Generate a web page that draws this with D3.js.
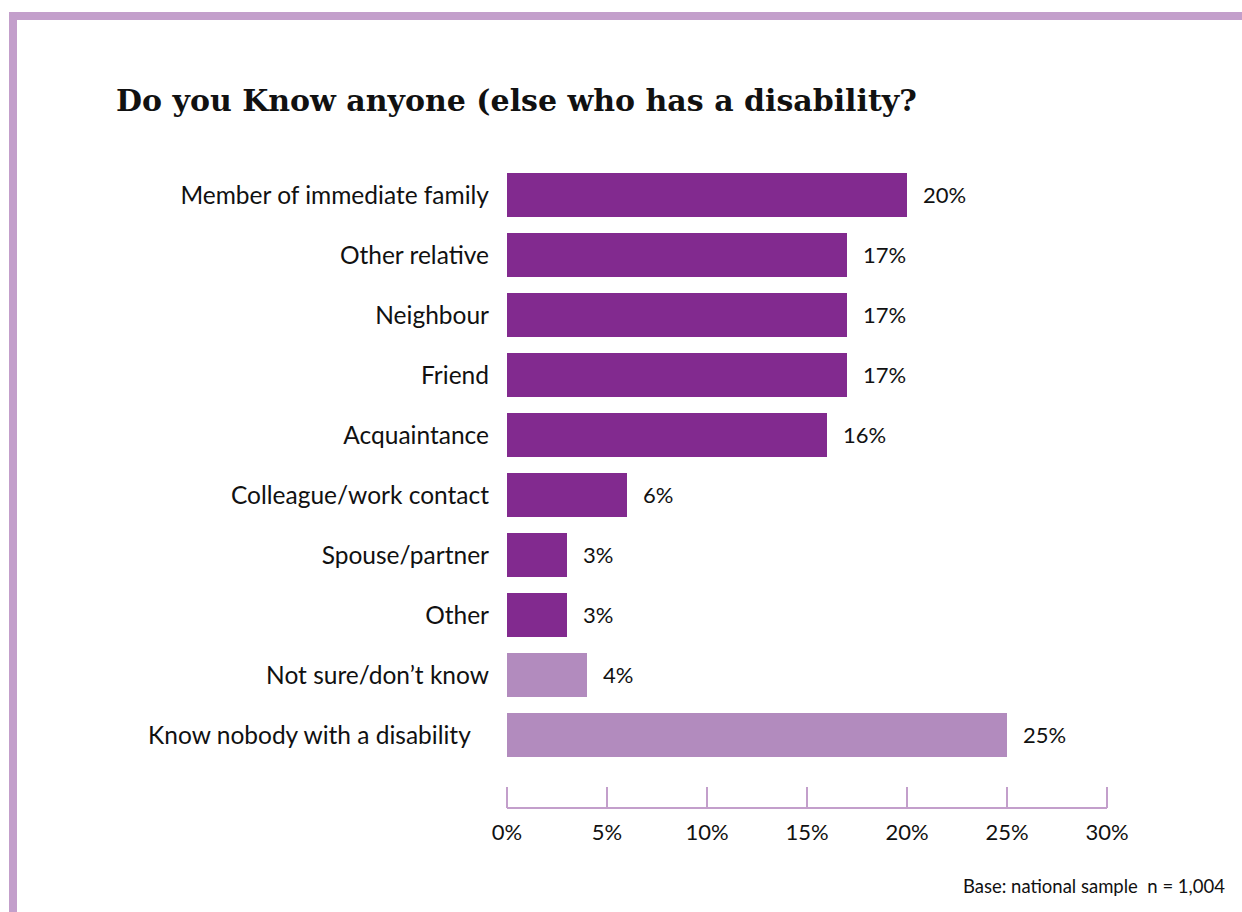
<!DOCTYPE html>
<html>
<head>
<meta charset="utf-8">
<script src="https://cdn.jsdelivr.net/npm/d3@7"></script>
<style>
	body { margin: 0; background: #fff; }
	svg { display: block; }
	.lab { font-family: "Lato", sans-serif; font-size: 22px; fill: #111; }
	.cat { font-size: 24.5px; }
</style>
</head>
<body>
<svg id="chart" width="1242" height="912"></svg>
<script>
let categories = ["Member of immediate family", "Other relative", "Neighbour", "Friend", "Acquaintance",
	"Colleague/work contact", "Spouse/partner", "Other", "Not sure/don\u2019t know", "Know nobody with a disability\u00a0\u00a0\u00a0"];
let values = [20, 17, 17, 17, 16, 6, 3, 3, 4, 25];
let groups = ["know", "know", "know", "know", "know", "know", "know", "know", "other", "other"];
let tickValues = [0, 5, 10, 15, 20, 25, 30];

let data = categories.map((c, i) => ({key: c, value: values[i], group: groups[i]}));

let svg = d3.select("#chart");
let borderColour = "#c39fcb";

// frame
svg.append("rect").attr("x", 9).attr("y", 12).attr("width", 1242).attr("height", 8).attr("fill", borderColour);
svg.append("rect").attr("x", 9).attr("y", 12).attr("width", 8).attr("height", 912).attr("fill", borderColour);

svg.append("text")
	.attr("x", 116).attr("y", 111)
	.attr("font-family", "DejaVu Serif")
	.attr("font-weight", "bold")
	.attr("font-size", 30)
	.attr("fill", "#111")
	.text("Do you Know anyone (else who has a disability?");

let scaleX = d3.scaleLinear().domain([0, 30]).range([507, 1107]);
let scaleY = d3.scaleBand()
	.domain(categories)
	.range([165, 765])
	.paddingInner(16/60)
	.paddingOuter(8/60);

let colour = d3.scaleOrdinal().domain(["know", "other"]).range(["#822a8f", "#b28bbe"]);

let rows = svg.selectAll("g.row")
	.data(data)
	.join("g")
	.attr("class", "row")
	.attr("transform", d => "translate(0," + scaleY(d.key) + ")");

rows.append("rect")
	.attr("x", scaleX(0))
	.attr("width", d => scaleX(d.value) - scaleX(0))
	.attr("height", scaleY.bandwidth())
	.attr("fill", d => colour(d.group));

rows.append("text")
	.attr("class", "lab cat")
	.attr("x", scaleX(0) - 18)
	.attr("y", scaleY.bandwidth()/2)
	.attr("dy", "0.38em")
	.attr("text-anchor", "end")
	.style("white-space", "pre")
	.text(d => d.key);

rows.append("text")
	.attr("class", "lab")
	.attr("x", d => scaleX(d.value) + 16)
	.attr("y", scaleY.bandwidth()/2)
	.attr("dy", "0.38em")
	.text(d => d.value + "%");

// axis
let axis = svg.append("g").attr("transform", "translate(0,808)");
axis.append("line")
	.attr("x1", scaleX(0)).attr("x2", scaleX(30))
	.attr("stroke", borderColour).attr("stroke-width", 2);
axis.selectAll("line.tick")
	.data(tickValues)
	.join("line")
	.attr("class", "tick")
	.attr("x1", d => scaleX(d)).attr("x2", d => scaleX(d))
	.attr("y1", -21).attr("y2", 0)
	.attr("stroke", borderColour).attr("stroke-width", 2);
axis.selectAll("text")
	.data(tickValues)
	.join("text")
	.attr("class", "lab")
	.attr("x", d => scaleX(d))
	.attr("y", 32)
	.attr("text-anchor", "middle")
	.text(d => d + "%");

svg.append("text")
	.attr("x", 1225).attr("y", 893)
	.attr("text-anchor", "end")
	.attr("font-family", "Lato, sans-serif")
	.attr("font-size", 18.5)
	.attr("fill", "#111")
	.style("white-space", "pre")
	.text("Base: national sample  n = 1,004");
</script>
</body>
</html>
